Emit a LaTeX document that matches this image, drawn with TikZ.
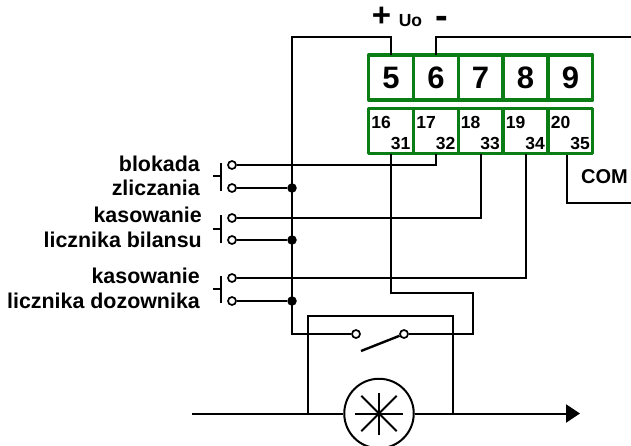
\documentclass[tikz,border=0pt]{standalone}
\usepackage{fontspec}
\setmainfont{Liberation Sans}
\usetikzlibrary{calc}
\usetikzlibrary{arrows.meta}
\definecolor{cellgreen}{RGB}{10,125,20}
\tikzset{
  wire/.style={line width=2pt},
  cell/.style={draw=cellgreen, line width=3.3pt, line join=round, rectangle, inner sep=0pt, outer sep=0pt, minimum width=44.5pt},
  contact/.style={draw, circle, fill=white, line width=1.7pt, inner sep=0pt, minimum size=8pt},
  junction/.style={circle, fill=black, inner sep=0pt, minimum size=9.5pt},
  caption/.style={anchor=base east, inner sep=0pt, font=\fontsize{21.4}{21.4}\selectfont\bfseries},
  pin/.style={inner sep=0pt, font=\fontsize{17.5}{17.5}\selectfont\bfseries}
}
\begin{document}
\begin{tikzpicture}[x=1pt, y=-1pt]
            \useasboundingbox (0, 0) rectangle (631, 445);

            % terminal strip
            \foreach \n/\m/\k/\x in {5/16/31/391, 6/17/32/436, 7/18/33/480.5, 8/19/34/525.5, 9/20/35/570.5} {
              \node[cell, minimum height=45pt, font=\fontsize{31}{31}\selectfont\bfseries] (t\n) at (\x, 77.5) {\n};
              \node[cell, minimum height=45pt] (b\m) at (\x, 131) {};
              \node[pin] (u\m) at (\x-10, 122) {\m};
              \node[pin] (v\k) at (\x+9.5, 143) {\k};
            }

            % supply labels
            \node[anchor=base, inner sep=0pt, font=\fontsize{33}{33}\selectfont\bfseries] (plus) at (381.5, 26.5) {+};
            \node[inner sep=0pt, font=\fontsize{17.5}{17.5}\selectfont\bfseries] (uo) at (410.5, 21) {Uo};
            \node[anchor=base, inner sep=0pt, font=\fontsize{38}{38}\selectfont\bfseries] (minus) at (442, 28.5) {-};
            \node[anchor=base west, inner sep=0pt, font=\fontsize{20}{20}\selectfont\bfseries] (com) at (581, 183) {COM};

            % captions
            \node[caption] (cap1) at (200, 171) {blokada};
            \node[caption] (cap2) at (200, 195.5) {zliczania};
            \node[caption] (cap3) at (202, 222.5) {kasowanie};
            \node[caption] (cap4) at (202, 247) {licznika bilansu};
            \node[caption] (cap5) at (200, 283) {kasowanie};
            \node[caption] (cap6) at (200, 308) {licznika dozownika};

            % push buttons
            \foreach \i/\ya/\yb/\ys/\yt/\ye in {1/165/188/176/163/191, 2/218/240/229/215/243, 3/278/301/289/276/303} {
              \node[contact] (ca\i) at (232, \ya) {};
              \node[contact] (cb\i) at (232, \yb) {};
              \node[junction] (dot\i) at (292, \yb) {};
              \coordinate (bar\i) at (221, \ys);
              \draw[wire] (221, \yt) -- (221, \ye);
              \draw[wire] (213, \ys) -- (bar\i);
              \draw[wire] (cb\i) -- (dot\i);
            }

            % relay contact
            \node[contact] (swa) at (356, 334) {};
            \node[contact] (swb) at (404, 334) {};
            \coordinate (blade) at (361, 351);
            \draw[line width=2.4pt] (blade) -- (swb);

            % wires
            \coordinate (bustop) at (292, 37);
            \coordinate (busend) at (292, 334);
            \coordinate (rail) at (631, 37);
            \coordinate (turn) at (473, 293);
            \coordinate (comtop) at (567, 155);
            \coordinate (comend) at (631, 203);
            \draw[wire] (t5.north) |- (bustop) -- (busend) -- (swa);
            \draw[wire] (t6.north) |- (rail);
            \draw[wire] (b17.south) |- (ca1);
            \draw[wire] (b18.south) |- (ca2);
            \draw[wire] (b19.south) |- (ca3);
            \draw[wire] (b16.south) |- (turn) |- (swb);
            \draw[wire] (comtop) |- (comend);

            % flow meter
            \node[draw, circle, line width=2pt, inner sep=0pt, minimum size=69.5pt] (meter) at (379, 413.5) {};
            \foreach \a/\r in {0/24, 45/25, 90/21, 135/25} {
              \draw[wire] ($(meter)+(\a:\r)$) -- ($(meter)+(\a+180:\r)$);
            }
            \coordinate (flowin) at (192, 413.5);
            \coordinate (flowout) at (580, 413.5);
            \coordinate (boxl) at (308, 413.5);
            \coordinate (boxr) at (452.5, 413.5);
            \draw[wire] (flowin) -- (meter);
            \draw[wire, -{Triangle[length=14pt, width=18pt]}] (meter) -- (flowout);
            \draw[wire] (boxl) -- ++(0, -97.5) -| (boxr);
          \end{tikzpicture}
\end{document}
